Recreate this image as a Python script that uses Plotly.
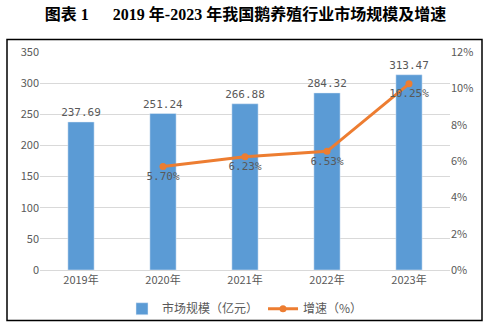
import plotly.graph_objects as go

years = ["2019年", "2020年", "2021年", "2022年", "2023年"]
market = [237.69, 251.24, 266.88, 284.32, 313.47]
growth_years = ["2020年", "2021年", "2022年", "2023年"]
growth = [5.70, 6.23, 6.53, 10.25]
left_ticks = [0, 50, 100, 150, 200, 250, 300, 350]
right_ticks = [0, 2, 4, 6, 8, 10, 12]

W, H = 491, 335
L, R, T, B = 40, 41, 52, 58
pw, ph = W - L - R, H - T - B

grey = "#595959"
mono = "DejaVu Sans Mono, Noto Sans CJK SC"
cjk = "Noto Sans CJK SC, DejaVu Sans"

fig = go.Figure()
fig.add_trace(go.Bar(
    x=years, y=market, name="市场规模（亿元）",
    marker_color="#5b9bd5", width=0.32,
    text=[f"{v:.2f}" for v in market], textposition="outside",
    constraintext="none",
    textfont=dict(family=mono, size=11, color=grey), cliponaxis=False,
))
fig.add_trace(go.Scatter(
    x=growth_years, y=growth, name="增速（%）", yaxis="y2",
    mode="lines+markers+text", line=dict(color="#ed7d31", width=3),
    marker=dict(symbol="circle", size=7, color="#ed7d31"),
    text=[f"{v:.2f}%" for v in growth], textposition="bottom center",
    textfont=dict(family=mono, size=11, color=grey), cliponaxis=False,
))

def px(x):
    return (x - L) / pw

def py(y):
    return (H - B - y) / ph

fig.update_layout(
    width=W, height=H,
    margin=dict(l=L, r=R, t=T, b=B),
    paper_bgcolor="white", plot_bgcolor="white",
    showlegend=True,
    legend=dict(orientation="h", x=0.5, xanchor="center", y=py(317), yanchor="middle",
                font=dict(family=cjk, size=12, color=grey), itemwidth=30,
                bgcolor="rgba(0,0,0,0)"),
    xaxis=dict(tickfont=dict(family=cjk, size=11, color=grey), showline=True,
               linecolor="#d9d9d9", ticks="", showgrid=False),
    yaxis=dict(range=[0, 350], tickvals=left_ticks, tickfont=dict(family=cjk, size=11, color=grey),
               gridcolor="#d9d9d9", showline=False, zeroline=False, ticks=""),
    yaxis2=dict(range=[0, 12], tickvals=right_ticks, ticktext=[f"{v}%" for v in right_ticks],
                overlaying="y", side="right", showgrid=False, zeroline=False,
                tickfont=dict(family=cjk, size=11, color=grey), ticks=""),
    title=dict(text="图表 1      2019 年-2023 年我国鹅养殖行业市场规模及增速",
               x=0.5, xanchor="center", y=1 - 14 / H, yanchor="middle",
               font=dict(family="Liberation Serif, Noto Sans CJK SC", size=16, color="black", weight="bold")),
    shapes=[dict(type="rect", xref="paper", yref="paper",
                 x0=px(7), x1=px(482), y0=py(329), y1=py(39),
                 line=dict(color="black", width=1.5))],
)

fig.write_html("out.html")
